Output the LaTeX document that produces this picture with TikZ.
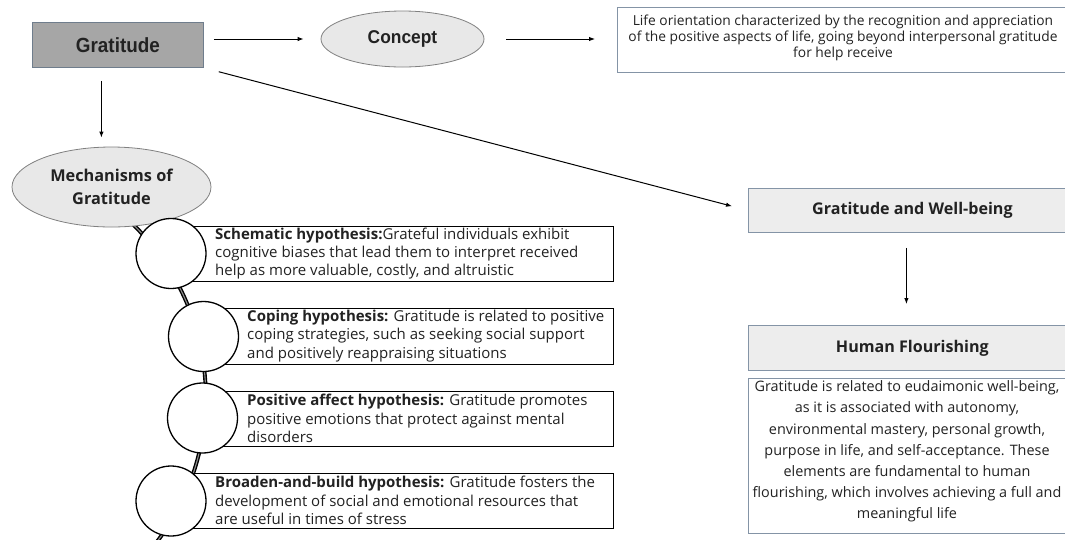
\documentclass[tikz,border=0pt]{standalone}
\usepackage{fontspec}
\usepackage{graphicx}
\setmainfont{Open Sans}
\newfontfamily\headfont{Liberation Sans}
\usetikzlibrary{arrows.meta,shapes.geometric}
\definecolor{gbox}{HTML}{A6A6A6}
\definecolor{gborder}{HTML}{6F7D8C}
\definecolor{lightfill}{HTML}{E8E8E8}
\definecolor{titlefill}{HTML}{EDEDED}
\definecolor{ellborder}{HTML}{808080}
\definecolor{bluegray}{HTML}{8494A6}
\definecolor{txt}{HTML}{222222}
\begin{document}
\begin{tikzpicture}[x=1pt,y=-1pt,
  arr/.style={draw=black, line width=1pt, -{Latex[length=6pt,width=4.5pt]}},
  ellnode/.style={ellipse, draw=ellborder, line width=0.8pt, fill=lightfill, inner sep=0pt},
  hypbox/.style={rectangle, draw=black, line width=1.3pt, fill=white, anchor=north west, minimum height=55pt, inner sep=0pt},
  hyptext/.style={anchor=west, align=left, text=txt, font=\fontsize{15}{18.3}\selectfont, inner sep=0pt},
  circ/.style={circle, draw=black, line width=1.3pt, fill=white, minimum size=70pt, inner sep=0pt},
  rbox/.style={rectangle, draw=bluegray, line width=0.8pt, anchor=north west, inner sep=0pt},
  rtitle/.style={rbox, fill=titlefill, text=txt, minimum width=328pt, minimum height=44pt, font=\bfseries\fontsize{16.1}{19}\selectfont},
  curve/.style={draw=black, line width=1.4pt, double=white!55!black, double distance=1.1pt}
]
\useasboundingbox (0,0) rectangle (1065,539);
\clip (0,0) rectangle (1065,539);
\fill[white] (0,0) rectangle (1065,539);

% top row
\node[rectangle, draw=gborder, line width=0.8pt, fill=gbox, text=txt, minimum width=171pt, minimum height=45pt, anchor=north west, inner sep=0pt,
      font=\headfont\bfseries\fontsize{20.5}{24}\selectfont] (grat) at (32,22) {\scalebox{0.92}[1]{Gratitude}};
\node[ellnode, text=txt, minimum width=163pt, minimum height=56pt, font=\headfont\bfseries\fontsize{18.5}{22}\selectfont] (concept) at (402.5,39) {\scalebox{0.94}[1]{Concept}};
\node[rbox, fill=white, minimum width=466pt, minimum height=65pt] (life) at (617,7) {};
\node[align=center, text=txt, font=\fontsize{13.8}{15.8}\selectfont, inner sep=0pt] (lifetext) at (843,38) {Life orientation characterized by the recognition and appreciation\\of the positive aspects of life, going beyond interpersonal gratitude\\for help receive};

\draw[arr, shorten <=10pt, shorten >=17pt] (grat.east |- concept) -- (concept.west);
\draw[arr, shorten <=22pt, shorten >=22pt] (concept.east) -- (life.west |- concept);

% mechanisms
\coordinate (gdown) at ([xshift=-16.5pt]grat.south);
% curve behind
\draw[curve] (-34.2,396.6) ++(-47:240) arc[start angle=-47, end angle=42, radius=240];
\node[ellnode, text=txt, minimum width=199pt, minimum height=80pt, align=center, font=\bfseries\fontsize{16.3}{23}\selectfont] (mech) at (111.5,187) {Mechanisms of\\Gratitude};
\draw[arr, shorten <=13pt, shorten >=9pt] (gdown) -- (gdown |- mech.north);

% hypothesis boxes
\node[hypbox, minimum width=438pt] (b1) at (175,226) {};
\node[hypbox, minimum width=408pt, minimum height=56pt] (b2) at (205,308) {};
\node[hypbox, minimum width=408pt] (b3) at (205,391) {};
\node[hypbox, minimum width=438pt] (b4) at (175,473) {};

\node[circ] (c1) at (171,253.5) {};
\node[circ] (c2) at (203.5,336.5) {};
\node[circ] (c3) at (202.5,418) {};
\node[circ] (c4) at (171,501) {};

\node[hyptext] (t1) at (215,253.5) {\textbf{Schematic hypothesis:}Grateful individuals exhibit\\cognitive biases that lead them to interpret received\\help as more valuable, costly, and altruistic};
\node[hyptext] (t2) at (247,336) {\textbf{Coping hypothesis:} Gratitude is related to positive\\coping strategies, such as seeking social support\\and positively reappraising situations};
\node[hyptext] (t3) at (247,418.5) {\textbf{Positive affect hypothesis:} Gratitude promotes\\positive emotions that protect against mental\\disorders};
\node[hyptext] (t4) at (215,500.5) {\textbf{Broaden-and-build hypothesis:} Gratitude fosters the\\development of social and emotional resources that\\are useful in times of stress};

% right column
\node[rtitle] (wb) at (748,188) {Gratitude and Well-being};
\node[rtitle, minimum height=45pt] (hf) at (748,325) {Human Flourishing};
\node[rbox, fill=white, minimum width=328pt, minimum height=155pt] (hfbox) at (748,378) {};
\node[align=center, text=txt, font=\fontsize{14.4}{21.2}\selectfont, inner sep=0pt] (hftext) at (907,451.5) {Gratitude is related to eudaimonic well-being,\\as it is associated with autonomy,\\environmental mastery, personal growth,\\purpose in life, and self-acceptance. These\\elements are fundamental to human\\flourishing, which involves achieving a full and\\meaningful life};

\draw[arr, shorten <=15.5pt, shorten >=16.5pt] (grat.south east) -- (wb.west);
\coordinate (wbdown) at ([xshift=-6pt]wb.south);
\draw[arr, shorten <=15pt, shorten >=21pt] (wbdown) -- (wbdown |- hf.north);
\end{tikzpicture}
\end{document}
